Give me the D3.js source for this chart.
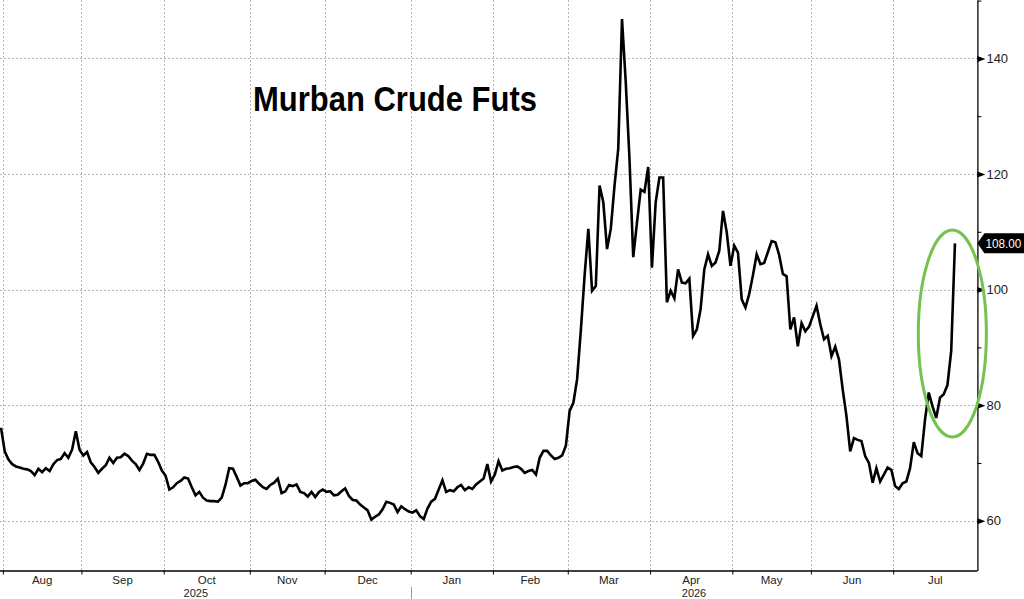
<!DOCTYPE html>
<html>
<head>
<meta charset="utf-8">
<script src="https://cdn.jsdelivr.net/npm/d3@7"></script>
<style>
body{margin:0;background:#fff;overflow:hidden;}
svg{display:block;font-family:"Liberation Sans Narrow","Liberation Sans",Arial,sans-serif;}
</style>
</head>
<body>
<svg id="chart"></svg>
<script>
// trading days (weekdays) shown on the axis
var firstDay=new Date(2025,6,31);
var axisEnd=new Date(2026,6,31);

// Murban crude futures, one close per weekday from 31 Jul 2025 to 23 Jul 2026
var prices=[
76.1,72.0,70.6,69.8,69.4,69.2,69.0,68.9,68.6,67.9,
69.0,68.4,69.1,68.6,69.8,70.5,70.7,71.7,70.9,72.3,
75.5,72.3,71.3,71.9,70.1,69.3,68.3,69.0,69.6,70.9,
70.0,70.9,71.0,71.6,71.2,70.4,69.8,68.8,69.9,71.6,
71.4,71.4,70.2,68.7,67.8,65.4,65.8,66.5,66.9,67.5,
67.3,65.8,64.4,65.0,64.0,63.5,63.4,63.4,63.3,64.0,
66.2,69.1,69.0,67.6,66.1,66.5,66.5,66.9,67.1,66.4,
65.8,65.5,66.2,66.6,67.3,64.8,65.1,66.2,66.0,66.3,
65.0,64.8,64.2,65.0,64.1,65.0,65.4,65.0,65.1,64.4,
64.5,65.1,65.6,64.3,63.6,63.5,62.8,62.3,61.8,60.2,
60.7,61.1,62.0,63.3,63.1,62.8,61.5,62.5,62.0,61.6,
61.4,61.8,60.8,60.3,62.1,63.3,63.8,65.4,67.0,65.0,
65.3,65.1,65.8,66.2,65.3,65.8,65.5,66.3,66.8,67.3,
69.8,66.8,68.0,70.3,68.7,69.0,69.1,69.3,69.4,69.0,
68.3,68.6,68.8,68.0,70.9,72.1,72.1,71.3,70.7,70.9,
71.3,73.0,79.0,80.4,84.5,93.0,102.4,110.5,99.8,100.6,
118.0,115.1,107.0,110.5,118.0,124.4,146.8,135.9,122.6,105.6,
111.6,117.3,116.9,121.2,103.8,115.1,119.4,119.4,97.8,99.8,
98.5,103.5,101.2,101.1,101.9,92.0,93.1,96.6,103.5,106.1,
104.1,104.7,106.7,113.6,109.9,104.1,107.6,106.4,98.3,96.9,
99.2,102.5,106.1,104.4,104.6,106.5,108.4,108.2,106.0,102.7,
102.3,93.1,95.2,90.2,94.2,92.8,93.6,95.4,97.2,94.0,
91.4,92.0,88.5,90.1,87.9,82.7,78.1,72.0,74.3,74.0,
73.8,71.2,70.0,66.6,69.1,66.8,68.0,69.2,68.8,66.0,
65.5,66.5,66.8,69.1,73.6,71.7,71.2,77.5,82.2,79.8,
77.8,81.3,81.9,83.5,89.4,108.0
];

var yTicks=[60,80,100,120,140];
var yMinorTicks=[70,90,110,130,150];
var title="Murban Crude Futs";
var lastLabel="108.00";
// circled area: centre (day index, price) and half sizes
var circle={day:254.3,price:92.4,dayRadius:9.1,priceRadius:17.9};

var w=1024;
var h=599;
var plotBottom=570.5;
var axisX=977.4;

var days=d3.timeDay.range(firstDay,d3.timeDay.offset(axisEnd,1))
           .filter(function(d){return d.getDay()!==0 && d.getDay()!==6;});

var xScale=d3.scaleLinear()
             .domain([0,days.length-1])
             .range([1,axisX]);
var yScale=d3.scaleLinear()
             .domain([51.4,150.1])
             .range([plotBottom,0]);

// month boundaries sit half a day before the first trading day of each month
var monthBreaks=[];
var yearBreaks=[];
for(var i=1;i<days.length;i++){
  if(days[i].getMonth()!==days[i-1].getMonth()){
    monthBreaks.push(i-0.5);
    if(days[i].getFullYear()!==days[i-1].getFullYear()) yearBreaks.push(i-0.5);
  }
}

var svg=d3.select("#chart")
          .attr("width",w)
          .attr("height",h);

svg.append("rect")
   .attr("width",w).attr("height",h)
   .attr("fill","#fff");

// grid
var grid=svg.append("g")
            .attr("stroke","#b5b5b5")
            .attr("stroke-width",1)
            .attr("stroke-dasharray","2,2");
grid.selectAll("line.h")
    .data(yTicks)
    .enter()
    .append("line")
    .attr("x1",0)
    .attr("x2",axisX)
    .attr("y1",function(d){return Math.round(yScale(d))+0.5;})
    .attr("y2",function(d){return Math.round(yScale(d))+0.5;});
grid.selectAll("line.v")
    .data(monthBreaks)
    .enter()
    .append("line")
    .attr("x1",function(d){return Math.round(xScale(d))+0.5;})
    .attr("x2",function(d){return Math.round(xScale(d))+0.5;})
    .attr("y1",0)
    .attr("y2",plotBottom);

// bottom axis
var xAxis=d3.axisBottom(xScale)
            .tickValues(monthBreaks)
            .tickFormat("")
            .tickSize(4)
            .tickSizeOuter(0);
var gx=svg.append("g")
   .attr("transform","translate(0,"+plotBottom+")")
   .call(xAxis);
gx.select(".domain").attr("stroke","#000").attr("stroke-width",1.3)
  .attr("d","M0,0.5H"+axisX);
gx.selectAll(".tick line").attr("stroke","#000");

var monthSpans=monthBreaks.map(function(b,k){
  var end=k<monthBreaks.length-1 ? monthBreaks[k+1] : days.length-1;
  return {start:b,end:end,label:d3.timeFormat("%b")(days[Math.ceil(b)])};
});
svg.append("g")
   .selectAll("text")
   .data(monthSpans)
   .enter()
   .append("text")
   .attr("x",function(d){return (xScale(d.start)+xScale(d.end))/2;})
   .attr("y",583.5)
   .attr("text-anchor","middle")
   .attr("font-size",11.5)
   .attr("fill","#222")
   .text(function(d){return d.label;});

var yearEdges=[0].concat(yearBreaks).concat([days.length-1]);
var yearSpans=[];
for(var k=0;k<yearEdges.length-1;k++){
  yearSpans.push({start:yearEdges[k],end:yearEdges[k+1],label:days[Math.ceil(yearEdges[k])].getFullYear()});
}
svg.append("g")
   .selectAll("text")
   .data(yearSpans)
   .enter()
   .append("text")
   .attr("x",function(d,i){return (xScale(d.start)+xScale(d.end))/2-(i===0?10:0);})
   .attr("y",596.5)
   .attr("text-anchor","middle")
   .attr("font-size",11)
   .attr("fill","#222")
   .text(function(d){return d.label;});
svg.selectAll("line.yearsep")
   .data(yearBreaks)
   .enter()
   .append("line")
   .attr("x1",function(d){return Math.round(xScale(d))+0.5;})
   .attr("x2",function(d){return Math.round(xScale(d))+0.5;})
   .attr("y1",587)
   .attr("y2",599)
   .attr("stroke","#999");

// right axis
var yAxis=d3.axisRight(yScale)
            .tickValues(yTicks)
            .tickSize(0)
            .tickPadding(9)
            .tickSizeOuter(0);
var gy=svg.append("g")
   .attr("transform","translate("+axisX+",0)")
   .call(yAxis);
gy.select(".domain").attr("stroke","#000").attr("stroke-width",1.3);
gy.selectAll(".tick text")
  .attr("font-family","\"Liberation Sans Narrow\",\"Liberation Sans\",Arial,sans-serif")
  .attr("font-size",13)
  .attr("fill","#222");
gy.selectAll(".tick")
  .append("path")
  .attr("d","M0,-3L8,0L0,3Z")
  .attr("fill","#000");
var yMinor=d3.axisRight(yScale)
             .tickValues(yMinorTicks)
             .tickSize(4)
             .tickFormat("")
             .tickSizeOuter(0);
var gym=svg.append("g")
   .attr("transform","translate("+axisX+",0)")
   .call(yMinor);
gym.select(".domain").remove();
gym.selectAll(".tick line").attr("stroke","#000");

// price line
var line=d3.line()
           .x(function(d,i){return xScale(i);})
           .y(function(d){return yScale(d);});
svg.append("path")
   .datum(prices)
   .attr("d",line)
   .attr("fill","none")
   .attr("stroke","#000")
   .attr("stroke-width",2.6)
   .attr("stroke-linejoin","miter");

// last value tag
var lastY=yScale(prices[prices.length-1]);
svg.append("path")
   .attr("d","M"+axisX+","+lastY+"l7,-10H1026v20H"+(axisX+7)+"Z")
   .attr("fill","#000");
svg.append("text")
   .attr("x",axisX+8)
   .attr("y",lastY+5)
   .attr("font-size",13)
   .attr("textLength",36)
   .attr("lengthAdjust","spacingAndGlyphs")
   .attr("fill","#fff")
   .text(lastLabel);

// green circle annotation
svg.append("ellipse")
   .attr("cx",xScale(circle.day))
   .attr("cy",yScale(circle.price))
   .attr("rx",xScale(circle.day+circle.dayRadius)-xScale(circle.day))
   .attr("ry",yScale(circle.price-circle.priceRadius)-yScale(circle.price))
   .attr("fill","none")
   .attr("stroke","#74c24f")
   .attr("stroke-width",3);

// title
svg.append("text")
   .attr("x",253)
   .attr("y",111)
   .attr("font-family","\"Liberation Sans\",Arial,sans-serif")
   .attr("font-weight","bold")
   .attr("font-size",35)
   .attr("textLength",284)
   .attr("lengthAdjust","spacingAndGlyphs")
   .attr("fill","#000")
   .text(title);
</script>
</body>
</html>
